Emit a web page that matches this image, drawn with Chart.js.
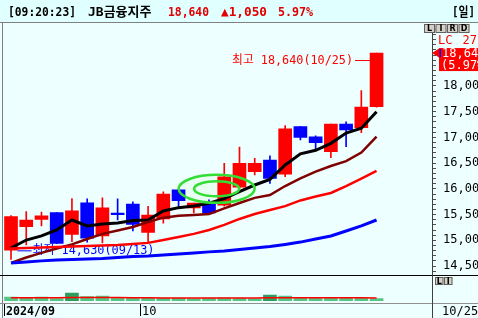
<!DOCTYPE html>
<html><head><meta charset="utf-8">
<script src="https://cdn.jsdelivr.net/npm/chart.js@4/dist/chart.umd.min.js"></script>
<style>html,body{margin:0;padding:0;background:#EEFFFF;overflow:hidden}canvas{display:block}</style>
</head><body><canvas id="c" width="478" height="318"></canvas>
<script>
// ---- data ----
const dates = ['09/13','09/19','09/20','09/23','09/24','09/25','09/26','09/27','09/30','10/02','10/04','10/07','10/08','10/10','10/11','10/14','10/15','10/16','10/17','10/18','10/21','10/22','10/23','10/24','10/25'];
const openP  = [14810,15265,15405,15540,15115,15730,15085,15530,15705,15155,15415,15980,15630,15705,15685,16035,16335,16560,16285,17210,17010,16725,17260,17190,17600];
const highP  = [15480,15560,15550,15540,15810,15805,15825,15805,15750,15660,15940,15980,15725,15785,16495,16810,16595,16640,17230,17210,17030,17260,17305,17910,18640];
const lowP   = [14630,14910,15280,14935,14975,14965,14950,15395,15180,14950,15335,15655,15530,15510,15665,16015,16270,16105,16235,16950,16755,16605,16820,17090,17590];
const closeP = [15460,15395,15475,14940,15575,15040,15630,15500,15310,15490,15900,15770,15725,15530,16235,16495,16495,16205,17165,17000,16900,17260,17145,17590,18640];
const ma5    = [14850,15005,15085,15200,15395,15280,15315,15335,15385,15395,15570,15635,15665,15720,15810,15945,16075,16185,16465,16680,16750,16885,17085,17180,17500];
const ma20   = [14560,14665,14755,14840,14920,15025,15125,15190,15260,15355,15440,15475,15490,15510,15620,15725,15825,15880,16055,16205,16335,16445,16540,16705,17015];
const ma60   = [14840,14850,14860,14870,14880,14890,14900,14910,14930,14950,15005,15065,15125,15200,15300,15415,15510,15590,15665,15775,15850,15920,16055,16200,16350];
const ma120  = [14560,14580,14600,14615,14625,14635,14645,14665,14685,14695,14715,14735,14755,14775,14790,14820,14850,14880,14920,14965,15025,15085,15180,15280,15395];
const volume = [400,300,400,250,800,450,500,300,280,300,300,300,250,300,320,300,250,600,500,300,300,300,300,300,250];
const volMa  = [330,330,330,330,340,350,350,340,330,320,300,300,300,300,300,300,300,320,330,330,330,320,320,320,310];
const priceLabels = [14500,15000,15500,16000,16500,17000,17500,18000];
const headerTime = '[09:20:23]', stockName = 'JB금융지주', lastPrice = '18,640', change = '▲1,050', changePct = '5.97%', period = '[일]';
const maxText = '최고 18,640(10/25)', minText = '최저 14,630(09/13)';
const monthLabels = [{at:0,text:'2024/09'},{at:8.5,text:'10'}];
const lastDate = '10/25';

const idx = dates.map((d,i)=>i);
const UP='#FF0000', DOWN='#0000FF';
const cColor = idx.map(i => closeP[i] >= openP[i] ? UP : DOWN);
const MONO = '"DejaVu Sans Mono","Noto Sans CJK KR",monospace';

const deco = {
  id:'deco',
  beforeDraw(chart){
    const c=chart.ctx, W=chart.width, H=chart.height;
    c.save();
    c.fillStyle='#EEFFFF'; c.fillRect(0,0,W,H);
    c.fillStyle='#E0FFFF'; c.fillRect(0,0,W,22);
    c.restore();
  },
  beforeDatasetsDraw(chart){
    const c=chart.ctx, xs=chart.scales.x, ys=chart.scales.y;
    // min annotation
    let mi=0; lowP.forEach((v,i)=>{ if(v<lowP[mi]) mi=i; });
    const px = xs.getPixelForValue(mi)+6.5, py = ys.getPixelForValue(lowP[mi]) - 9;
    c.save();
    c.strokeStyle='#0000FF'; c.lineWidth=1;
    c.beginPath(); c.moveTo(px, py+0.5); c.lineTo(px+14, py+0.5); c.stroke();
    c.fillStyle='#0000FF'; c.font='12px '+MONO; c.textBaseline='middle'; c.textAlign='left';
    c.fillText(minText, px+15, py+1, 122);
    // ellipse fill
    const ex=(xs.getPixelForValue(13)+xs.getPixelForValue(14))/2, ey=ys.getPixelForValue(16000);
    c.fillStyle='rgba(230,255,235,0.6)';
    c.beginPath(); c.ellipse(ex,ey,38,14,0,0,Math.PI*2); c.fill();
    c.restore();
  },
  afterDatasetsDraw(chart){
    const c=chart.ctx, xs=chart.scales.x, ys=chart.scales.y;
    const ex=(xs.getPixelForValue(13)+xs.getPixelForValue(14))/2, ey=ys.getPixelForValue(16000);
    c.save();
    c.strokeStyle='#33DD33'; c.lineWidth=2.5;
    c.beginPath(); c.ellipse(ex,ey,38,14,0,0,Math.PI*2); c.stroke();
    c.beginPath(); c.ellipse(ex,ey,22.5,7.5,0,0,Math.PI*2); c.stroke();
    // max annotation
    let ma=0; highP.forEach((v,i)=>{ if(v>highP[ma]) ma=i; });
    const px = xs.getPixelForValue(ma)-6.5, py = Math.round(ys.getPixelForValue(highP[ma]) + 7);
    c.strokeStyle='#FF0000'; c.lineWidth=1;
    c.beginPath(); c.moveTo(px-15, py+0.5); c.lineTo(px, py+0.5); c.stroke();
    c.fillStyle='#FF0000'; c.font='12px '+MONO; c.textBaseline='middle'; c.textAlign='right';
    c.fillText(maxText, px-17, py+1, 121);
    c.restore();
  },
  afterDraw(chart){
    const c=chart.ctx, W=chart.width, H=chart.height, xs=chart.scales.x, ys=chart.scales.y;
    c.save();
    // frame lines
    c.lineWidth=1;
    c.strokeStyle='#808080';
    c.beginPath(); c.moveTo(0,22.5); c.lineTo(W,22.5); c.stroke();
    c.beginPath(); c.moveTo(2.5,23); c.lineTo(2.5,H); c.stroke();
    c.strokeStyle='#000000';
    c.beginPath(); c.moveTo(0,275.5); c.lineTo(W,275.5); c.stroke();
    c.strokeStyle='#909090';
    c.beginPath(); c.moveTo(0,303.5); c.lineTo(W,303.5); c.stroke();
    c.strokeStyle='#404040';
    c.beginPath(); c.moveTo(432.5,33); c.lineTo(432.5,H); c.stroke();
    // header text
    c.textBaseline='middle'; c.textAlign='left';
    c.font='bold 13px '+MONO;
    c.fillStyle='#000'; c.fillText(headerTime, 8, 12.5, 68); c.fillText(stockName, 88, 12.5, 64);
    c.fillStyle='#E00000'; c.fillText(lastPrice, 168, 12.5, 41); c.fillText(change, 221, 12.5, 46); c.fillText(changePct, 278, 12.5, 35);
    c.fillStyle='#000'; c.fillText(period, 452, 12.5, 23);
    // LIRD buttons
    const btn=(x,y,w,h,t)=>{ c.fillStyle='#D4D0C8'; c.fillRect(x,y,w,h); c.strokeStyle='#606060'; c.strokeRect(x+0.5,y+0.5,w-1,h-1);
      c.fillStyle='#000'; c.font='bold 8px "DejaVu Sans"'; c.textAlign='center'; c.fillText(t, x+w/2, y+h/2+0.5); };
    ['L','I','R','D'].forEach((t,i)=>btn(424+i*11.5,24,11,9,t));
    btn(435,277,8.5,8,'L'); btn(444,277,8.5,8,'I');
    // LC 27
    c.textAlign='left'; c.font='12px '+MONO; c.fillStyle='#FF0000';
    c.fillText('LC', 438, 41); c.textAlign='right'; c.fillText('27', 477, 41);
    // price tag
    const ty = ys.getPixelForValue(closeP[closeP.length-1]);
    c.fillStyle='#FF0000';
    c.beginPath(); c.moveTo(432,ty); c.lineTo(439,ty-4.5); c.lineTo(439,ty+4.5); c.closePath(); c.fill();
    c.fillRect(439, ty-5, 40, 23);
    c.fillStyle='#0000FF'; c.fillRect(439.5, ty-4, 1.5, 8);
    c.fillStyle='#FFFFFF'; c.textAlign='left'; c.font='12px '+MONO;
    c.fillText(lastPrice, 442, ty+0.5); c.fillText('('+changePct, 441, ty+12.5);
    // date bar
    c.fillStyle='#000'; c.strokeStyle='#000';
    monthLabels.forEach((m,k)=>{
      const x = m.at===0 ? 4 : Math.round(xs.getPixelForValue(m.at));
      c.beginPath(); c.moveTo(x+0.5,304); c.lineTo(x+0.5,316); c.stroke();
      c.font=(k===0?'bold 12px ':'12px ')+MONO; c.textAlign='left';
      c.fillText(m.text, x+2, 311.5, k===0?49:undefined);
    });
    c.fillStyle='#000'; c.font='12px '+MONO; c.textAlign='left'; c.fillText(lastDate, 442, 311.5);
    c.restore();
  }
};

const pt = arr => idx.map(i => ({x:i, y:arr[i]}));
const line = (arr,color,w) => ({type:'line', data:pt(arr), borderColor:color, borderWidth:w, pointRadius:0, tension:0, yAxisID:'y', order:0});

new Chart(document.getElementById('c'), {
  type:'bar',
  data:{ datasets:[
    line(ma120,'#0000FF',3),
    line(ma60,'#FF0000',2.5),
    line(ma20,'#800000',2.5),
    line(ma5,'#000000',3),
    {type:'line', data:pt(volMa), borderColor:'#FF0000', borderWidth:1.5, pointRadius:0, yAxisID:'yv', order:1},
    {type:'bar', data:idx.map(i=>({x:i,y:[openP[i],closeP[i]]})), backgroundColor:cColor, barThickness:13, grouped:false, yAxisID:'y', order:5},
    {type:'bar', data:idx.map(i=>({x:i,y:[lowP[i],highP[i]]})), backgroundColor:cColor, barThickness:1, grouped:false, yAxisID:'y', order:6},
    {type:'bar', data:pt(volume), backgroundColor:idx.map(i=>volume[i]>=600?'#2E9E5E':'#55C585'), barThickness:13, grouped:false, yAxisID:'yv', order:7}
  ]},
  options:{
    responsive:false, animation:false, events:[],
    layout:{padding:{left:3.4, right:0, top:24, bottom:17}},
    plugins:{legend:{display:false}, tooltip:{enabled:false}},
    scales:{
      x:{type:'linear', display:false, min:-0.5, max:27.64, offset:false},
      y:{position:'right', min:13820, max:19205,
         afterBuildTicks:s=>{ const t=[]; for(let v=priceLabels[0]-100; v<=19100; v+=100) t.push({value:v}); s.ticks=t; },
         afterFit:s=>{ s.width=46; },
         ticks:{autoSkip:false, padding:7, color:'#000', font:{family:'DejaVu Sans Mono', size:12},
                callback:v => priceLabels.includes(v) ? v.toLocaleString('en-US') : ''},
         grid:{drawOnChartArea:false, tickLength:4, tickColor:'#505050'},
         border:{display:false}},
      yv:{display:false, min:0, max:27700}
    }
  },
  plugins:[deco]
});
</script></body></html>
